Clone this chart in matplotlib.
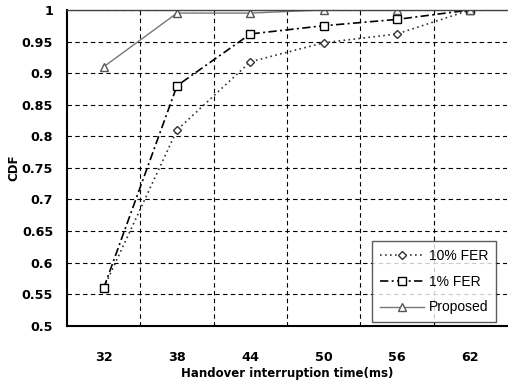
import matplotlib
matplotlib.use("Agg")
from matplotlib import pyplot as plt
import numpy as np

plt.rcParams['font.family'] = ['DejaVu Sans']

times = ['32', '38', '44', '50', '56', '62']
fer10 = [0.56, 0.81, 0.918, 0.948, 0.962, 1.0]
fer1 = [0.56, 0.88, 0.962, 0.975, 0.985, 1.0]
proposed = [0.91, 0.995, 0.995, 1.0, 1.0, 1.0]
yticks = [0.5, 0.55, 0.6, 0.65, 0.7, 0.75, 0.8, 0.85, 0.9, 0.95, 1.0]
ylabels = ['0.5', '0.55', '0.6', '0.65', '0.7', '0.75', '0.8', '0.85', '0.9', '0.95', '1']

x = np.arange(len(times))

fig = plt.figure(figsize=(5.08, 3.82), dpi=100)
ax = fig.add_axes([0.132, 0.147, 0.866, 0.827])

ax.plot(x, fer10, linestyle=(0, (1, 2)), color='#333333', lw=1.2,
        marker='D', markersize=4, markerfacecolor='white', markeredgecolor='#333333',
        label='10% FER')
ax.plot(x, fer1, linestyle=(0, (5, 2, 1.2, 2)), color='black', lw=1.2,
        marker='s', markersize=6, markerfacecolor='white', markeredgecolor='black',
        label='1% FER')
ax.plot(x, proposed, linestyle='-', color='#777777', lw=1,
        marker='^', markersize=6, markerfacecolor='white', markeredgecolor='#555555',
        label='Proposed')

ax.set_xlim(-0.5, len(times) - 0.5)
ax.set_ylim(0.5, 1.0)
ax.set_xticks(x)
ax.set_xticklabels(times)
ax.set_xticks(x[:-1] + 0.5, minor=True)
ax.set_yticks(yticks)
ax.set_yticklabels(ylabels)
ax.tick_params(axis='both', which='both', length=0, labelsize=9.2)
ax.tick_params(axis='x', pad=18)
ax.tick_params(axis='y', pad=10)

ax.grid(True, axis='y', which='major', linestyle=(0, (4, 3)), color='black', lw=0.8)
ax.grid(True, axis='x', which='minor', linestyle=(0, (4, 3)), color='black', lw=0.8)

for s in ['left', 'bottom']:
    ax.spines[s].set_linewidth(1.5)
ax.spines['top'].set_linewidth(1.0)
ax.spines['top'].set_color('#444444')
ax.spines['right'].set_visible(False)

ax.set_xlabel('Handover interruption time(ms)', fontsize=8.5, fontweight='bold', labelpad=2)
ax.set_ylabel('CDF', fontsize=8.5, fontweight='bold', labelpad=1)

leg = ax.legend(loc='lower right', bbox_to_anchor=(0.99, -0.01),
                prop={'family': ['Liberation Sans Narrow', 'Liberation Sans'], 'size': 10},
                frameon=True, fancybox=False, edgecolor='#333333', handlelength=3.2,
                borderpad=0.55, labelspacing=0.85, handletextpad=0.3)
leg.get_frame().set_linewidth(1.0)

for lab in ax.get_xticklabels() + ax.get_yticklabels():
    lab.set_fontweight('bold')

fig.savefig('out.png', dpi=100)
